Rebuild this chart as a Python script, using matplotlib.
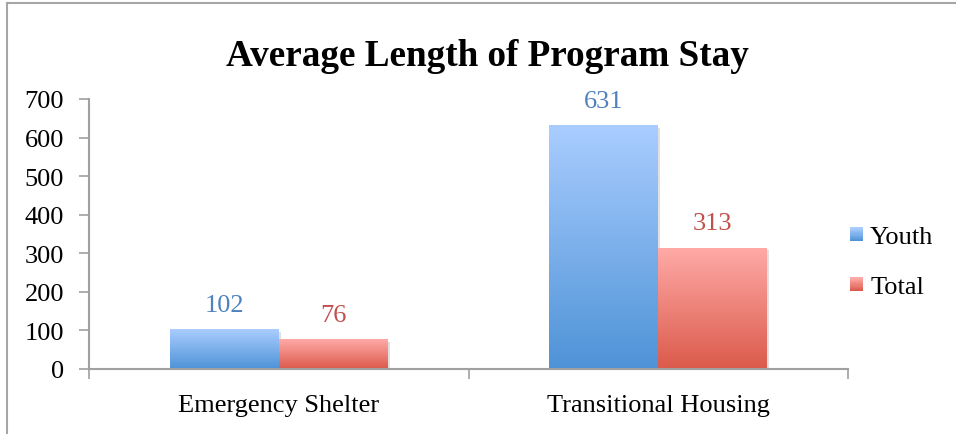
import numpy as np
import matplotlib
matplotlib.use("Agg")
import matplotlib.pyplot as plt
from matplotlib.patches import Rectangle
from matplotlib.legend_handler import HandlerBase
import matplotlib.patheffects as pe
from matplotlib.colors import LinearSegmentedColormap

categories = ["Emergency Shelter", "Transitional Housing"]
series_names = ["Youth", "Total"]
youth = [102, 631]
total = [76, 313]
yticks = [0, 100, 200, 300, 400, 500, 600, 700]

top_colors = ["#AACDFF", "#FFAAA7"]
bottom_colors = ["#4E93D7", "#DB5A4B"]
label_colors = ["#4F81BD", "#C0504D"]

plt.rcParams['font.family'] = ['Liberation Serif', 'DejaVu Serif']

fig = plt.figure(figsize=(9.56, 4.35), dpi=100)
ax = fig.add_axes([89/956, 65/435, (848-89)/956, 270/435])

x = np.arange(len(categories))
w = 0.287
grad = np.linspace(0, 1, 256).reshape(-1, 1)

for i, (vals, name) in enumerate(zip([youth, total], series_names)):
    offs = (i - 0.5) * w
    bars = ax.bar(x + offs, vals, width=w, facecolor="white", edgecolor="none",
                  zorder=2,
                  path_effects=[pe.SimplePatchShadow(offset=(1.5, -1.5), shadow_rgbFace="#000000", alpha=0.12),
                                pe.Normal()])
    cmap = LinearSegmentedColormap.from_list("g%d" % i, [bottom_colors[i], top_colors[i]])
    for b, v in zip(bars, vals):
        x0 = b.get_x()
        x1 = x0 + b.get_width()
        ax.imshow(grad, extent=(x0, x1, 0, b.get_height()), origin="lower",
                  cmap=cmap, aspect="auto", zorder=3)
        ax.annotate(str(v), (b.get_x() + b.get_width()/2, b.get_height()),
                    xytext=(0, 10), textcoords="offset points", ha="center", va="bottom",
                    fontsize=19, color=label_colors[i])

ax.set_xlim(-0.5, 1.5)
ax.set_ylim(0, 700)
ax.set_yticks(yticks)
ax.set_xticks(x)
ax.set_xticklabels(categories)
ax.set_xticks([-0.5, 0.5, 1.5], minor=True)
ax.tick_params(axis="x", which="major", length=0, pad=18, labelsize=19)
ax.tick_params(axis="x", which="minor", length=7, width=1.2, color="#A0A0A0", direction="out")
ax.tick_params(axis="y", length=7, width=1.2, color="#A0A0A0", direction="out", pad=11, labelsize=19)
for s in ["top", "right"]:
    ax.spines[s].set_visible(False)
for s in ["left", "bottom"]:
    ax.spines[s].set_color("#A0A0A0")
    ax.spines[s].set_linewidth(1.5)
ax.spines["bottom"].set_zorder(4)

fig.text(487/956, 1 - 57/435, "Average Length of Program Stay", ha="center", va="center",
         fontsize=26.7, fontweight="bold")

class GradHandler(HandlerBase):
    def __init__(self, c_top, c_bot):
        super().__init__()
        self.c_top = c_top
        self.c_bot = c_bot
    def create_artists(self, legend, orig_handle, xdescent, ydescent, width, height, fontsize, trans):
        arts = []
        n = 12
        cmap = LinearSegmentedColormap.from_list("h", [self.c_bot, self.c_top])
        side = min(width, height)
        x0 = -xdescent + (width - side)
        y0 = -ydescent
        for k in range(n):
            r = Rectangle((x0, y0 + side * k / n), side, side / n + 0.3,
                          facecolor=cmap(k / (n - 1)), edgecolor="none", transform=trans)
            arts.append(r)
        return arts

h1 = Rectangle((0, 0), 1, 1)
h2 = Rectangle((0, 0), 1, 1)
leg = fig.legend([h1, h2], series_names, loc="center left",
                 bbox_to_anchor=(826/956, 1 - 263/435), frameon=False, fontsize=19,
                 handlelength=0.52, handleheight=0.52, handletextpad=0.25, labelspacing=1.05,
                 handler_map={h1: GradHandler(top_colors[0], bottom_colors[0]),
                              h2: GradHandler(top_colors[1], bottom_colors[1])})

# outer border
fig.add_artist(plt.Line2D([7/956, 7/956], [0, 1 - 4/435], transform=fig.transFigure, color="#A6A6A6", lw=1.5))
fig.add_artist(plt.Line2D([7/956, 1], [1 - 4/435, 1 - 4/435], transform=fig.transFigure, color="#A6A6A6", lw=1.5))

fig.savefig("out.png", dpi=100)
